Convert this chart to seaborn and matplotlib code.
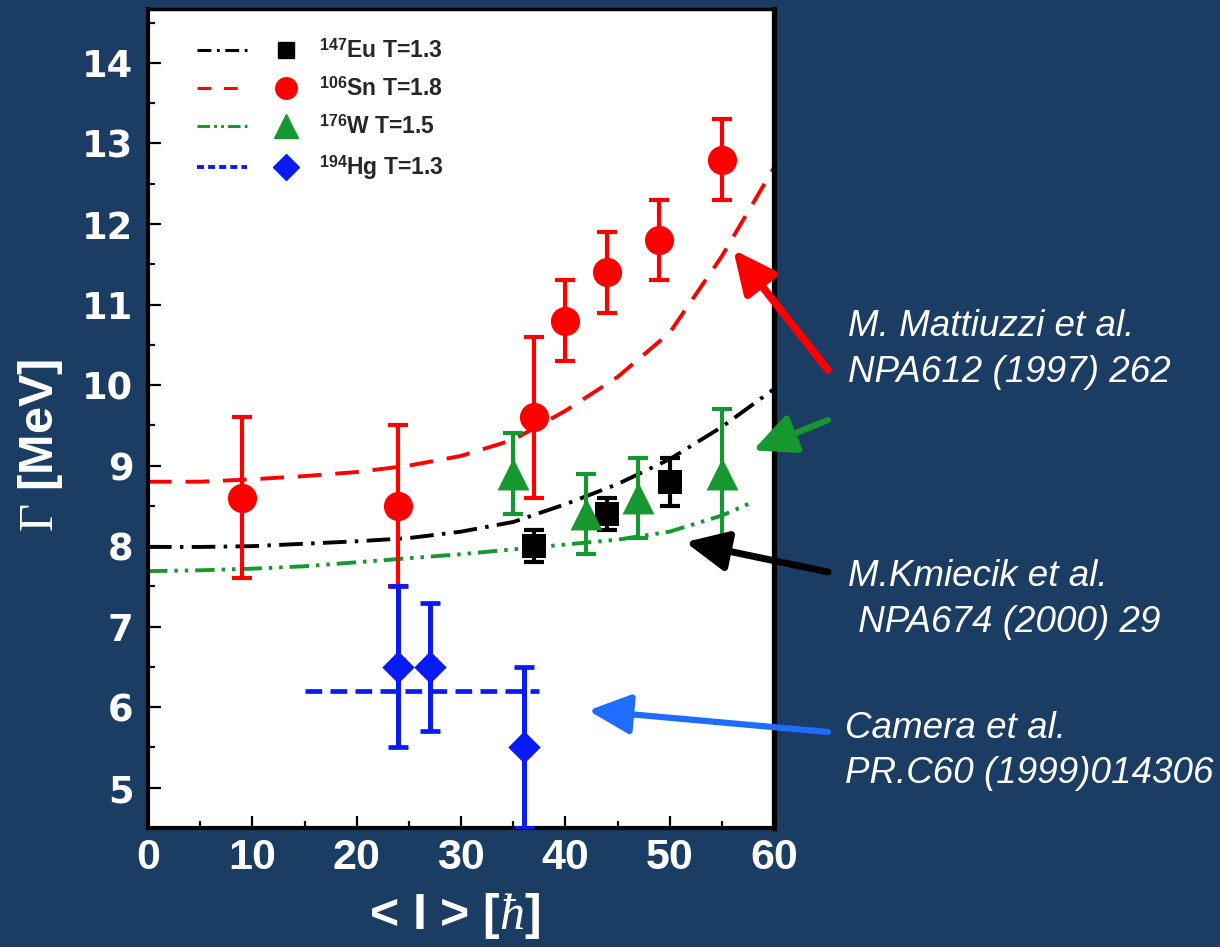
import matplotlib
matplotlib.use("Agg")
import matplotlib.pyplot as plt
import seaborn as sns
from matplotlib.lines import Line2D
from matplotlib.legend_handler import HandlerTuple
from matplotlib.ticker import MultipleLocator

# ---- measured widths Gamma vs mean spin <I> ----
sn_I = [9, 24, 37, 40, 44, 49, 55]
sn_G = [8.6, 8.5, 9.6, 10.8, 11.4, 11.8, 12.8]
sn_err = [1.0, 1.0, 1.0, 0.5, 0.5, 0.5, 0.5]

eu_I = [37, 44, 50]
eu_G = [8.0, 8.4, 8.8]
eu_err = [0.2, 0.2, 0.3]

w_I = [35, 42, 47, 55]
w_G = [8.9, 8.4, 8.6, 8.9]
w_err = [0.5, 0.5, 0.5, 0.8]

hg_I = [24, 27, 36]
hg_G = [6.5, 6.5, 5.5]
hg_err = [1.0, 0.8, 1.0]

# ---- model curves ----
th_I = [0, 5, 10, 15, 20, 25, 30, 35, 40, 45, 50, 55, 60]
sn_th = [8.8, 8.8, 8.83, 8.87, 8.92, 9.0, 9.12, 9.32, 9.68, 10.1, 10.65, 11.6, 12.7]
eu_th = [7.99, 7.99, 8.0, 8.03, 8.06, 8.1, 8.18, 8.3, 8.52, 8.77, 9.08, 9.48, 9.95]
w_th_I = [0, 5, 10, 15, 20, 25, 30, 35, 40, 45, 50, 55, 58]
w_th = [7.69, 7.7, 7.72, 7.75, 7.8, 7.85, 7.9, 7.96, 8.02, 8.08, 8.18, 8.38, 8.55]
hg_th_I = [15, 37.5]
hg_th = [6.2, 6.2]

labels = [r"$^{\mathbf{147}}$Eu T=1.3", r"$^{\mathbf{106}}$Sn T=1.8",
          r"$^{\mathbf{176}}$W T=1.5", r"$^{\mathbf{194}}$Hg T=1.3"]

BG = "#1b3d63"
RED = "#ff0000"
BLACK = "#000000"
GREEN = "#17972f"
BLUE = "#0a1af5"
ARROW_BLUE = "#1f6dff"

sns.set_theme(style="ticks")
plt.rcParams["font.family"] = ["Liberation Sans", "DejaVu Sans"]
plt.rcParams["mathtext.fontset"] = "custom"
plt.rcParams["mathtext.rm"] = "Liberation Serif"
plt.rcParams["mathtext.it"] = "Liberation Serif:italic"
plt.rcParams["mathtext.bf"] = "Liberation Sans:bold"
plt.rcParams["lines.scale_dashes"] = False

fig = plt.figure(figsize=(12.2, 9.47), dpi=100, facecolor=BG)
ax = fig.add_axes([148 / 1220, 1 - 828 / 947, 626 / 1220, 819 / 947])
ax.set_facecolor("white")

ls_sn = (0, (17, 10))
ls_eu = (0, (17, 6, 2.5, 6))
ls_w = (0, (14, 5, 2.5, 5, 2.5, 5))
ls_hg = (0, (12, 6))

sns.lineplot(x=th_I, y=sn_th, ax=ax, color=RED, lw=2.8, linestyle=ls_sn, zorder=2)
sns.lineplot(x=th_I, y=eu_th, ax=ax, color=BLACK, lw=2.8, linestyle=ls_eu, zorder=2)
sns.lineplot(x=w_th_I, y=w_th, ax=ax, color=GREEN, lw=2.8, linestyle=ls_w, zorder=2)
sns.lineplot(x=hg_th_I, y=hg_th, ax=ax, color=BLUE, lw=3.4, linestyle=ls_hg, zorder=2)

eb = dict(fmt="none", elinewidth=3.0, capthick=3.0, capsize=7, zorder=3)
ax.errorbar(sn_I, sn_G, yerr=sn_err, ecolor=RED, **eb)
ax.errorbar(eu_I, eu_G, yerr=eu_err, ecolor=BLACK, **eb)
ax.errorbar(w_I, w_G, yerr=w_err, ecolor=GREEN, **eb)
ax.errorbar(hg_I, hg_G, yerr=hg_err, ecolor=BLUE, elinewidth=3.6, capthick=3.4,
            capsize=7, fmt="none", zorder=3)

sns.scatterplot(x=sn_I, y=sn_G, ax=ax, marker="o", s=21 ** 2, color=RED, linewidth=0, zorder=4)
sns.scatterplot(x=eu_I, y=eu_G, ax=ax, marker="s", s=17 ** 2, color=BLACK, linewidth=0, zorder=4)
sns.scatterplot(x=w_I, y=w_G, ax=ax, marker="^", s=23 ** 2, color=GREEN, linewidth=0, zorder=4)
sns.scatterplot(x=hg_I, y=hg_G, ax=ax, marker="D", s=16.5 ** 2, color=BLUE, linewidth=0, zorder=4)

ax.set_xlim(0, 60)
ax.set_ylim(4.5, 14.67)
ax.xaxis.set_major_locator(MultipleLocator(10))
ax.xaxis.set_minor_locator(MultipleLocator(5))
ax.yaxis.set_minor_locator(MultipleLocator(0.5))
ax.set_yticks(range(5, 15))
ax.tick_params(which="both", direction="in", color="black", width=1.6,
               top=False, right=False, labelcolor="white")
ax.tick_params(which="major", length=9)
ax.tick_params(which="minor", length=5)
ax.tick_params(axis="x", which="major", labelsize=31, pad=7)
ax.tick_params(axis="y", which="major", labelsize=26.5, pad=10.5)
for lab in ax.get_xticklabels():
    lab.set_fontweight("bold")
for lab in ax.get_yticklabels():
    lab.set_fontweight("bold")
    lab.set_family("DejaVu Sans")

for side, w in [("left", 3.0), ("bottom", 3.0), ("right", 3.8), ("top", 2.5)]:
    ax.spines[side].set_visible(True)
    ax.spines[side].set_linewidth(w)
    ax.spines[side].set_color("black")

ax.set_xlabel(r"< I > [$\hbar$]", fontsize=36, fontweight="bold", color="white")
ax.set_ylabel(r"$\Gamma$ [MeV]", fontsize=35, fontweight="bold", color="white")
ax.xaxis.set_label_coords(0.49, -0.077)
ax.yaxis.set_label_coords(-0.132, 0.467)

handles = [
    (Line2D([], [], color=BLACK, lw=2.2, linestyle=(0, (10, 4, 2, 4))),
     Line2D([], [], color=BLACK, marker="s", ms=12, ls="none")),
    (Line2D([], [], color=RED, lw=2.2, linestyle=(0, (10, 9))),
     Line2D([], [], color=RED, marker="o", ms=15.5, ls="none")),
    (Line2D([], [], color=GREEN, lw=2.2, linestyle=(0, (9, 3, 2, 3, 2, 3))),
     Line2D([], [], color=GREEN, marker="^", ms=17, ls="none")),
    (Line2D([], [], color=BLUE, lw=2.8, linestyle=(0, (5, 3))),
     Line2D([], [], color=BLUE, marker="D", ms=13, ls="none")),
]
leg = ax.legend(handles, labels, handler_map={tuple: HandlerTuple(ndivide=None, pad=0.6)},
                loc="upper left", bbox_to_anchor=(0.045, 0.988), frameon=False,
                handlelength=5.0, handletextpad=0.35, labelspacing=0.62,
                prop={"family": ["Liberation Sans", "DejaVu Sans"], "weight": "bold", "size": 16.5})

# reference arrows (tail in figure pixels from top-left, head in data coordinates)
arrows = [
    ((56.1, 11.68), (828, 370), RED, 5.5),
    ((58.0, 9.19), (828, 420), GREEN, 4.5),
    ((51.5, 8.05), (828, 572), BLACK, 5.0),
    ((42.2, 5.96), (828, 732), ARROW_BLUE, 4.5),
]
for head, tail, col, lw in arrows:
    ax.annotate("", xy=head, xycoords="data",
                xytext=(tail[0] / 1220, 1 - tail[1] / 947), textcoords="figure fraction",
                arrowprops=dict(arrowstyle="-|>,head_length=0.95,head_width=0.45",
                                color=col, lw=lw, shrinkA=0, shrinkB=0, mutation_scale=27),
                annotation_clip=False, zorder=6)

refs = [
    (848, 327, "M. Mattiuzzi et al."),
    (848, 372, "NPA612 (1997) 262"),
    (848, 577, "M.Kmiecik et al."),
    (848, 622, " NPA674 (2000) 29"),
    (845, 728, "Camera et al."),
    (845, 773, "PR.C60 (1999)014306"),
]
for x, y, t in refs:
    fig.text(x / 1220, 1 - y / 947, t, color="white", fontsize=26.5, fontstyle="italic",
             ha="left", va="center", family=["Liberation Sans", "DejaVu Sans"])

fig.savefig("out.png", dpi=100, facecolor=BG)
